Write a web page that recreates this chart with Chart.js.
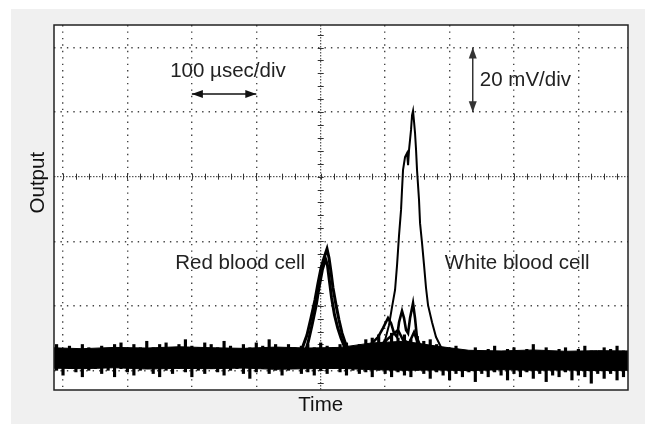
<!DOCTYPE html>
<html lang="en">
<head>
<meta charset="UTF-8">
<title>Red and white blood cell signal</title>
<script src="https://cdn.jsdelivr.net/npm/chart.js"></script>
<style>
  body { margin:0; background:#fff; }
  #panel { position:absolute; left:11px; top:9px; width:634px; height:415px; background:#f0f0f0; }
  #scope { position:absolute; left:0; top:0; }
</style>
</head>
<body>
<div id="panel"></div>
<canvas id="scope" width="645" height="424"></canvas>
<script>
// time in µs (100 µsec/div), output in mV (20 mV/div); screen centre is (0, 0)

// solid core of the baseline noise
const coreTime   = [-420, -370, -320, -270, -220, -170, -120, -70, -20, 30, 80, 130, 180, 230, 280, 330, 380, 430, 480];
const coreTop    = [-53, -53.3, -52.9, -53.1, -52.7, -53, -53.2, -52.8, -53.1, -52.9, -51.5, -51, -52.5, -53.8, -54, -53.7, -54.1, -53.9, -54];
const coreBottom = [-59.3, -59.5, -59.2, -59.6, -59.4, -59.5, -59.3, -59.7, -59.5, -59.4, -59.8, -60, -59.9, -60.1, -59.8, -60, -59.9, -60.1, -60];

// noise spikes: tip above and tip below at each sample
const baseTime = [
  -420, -410, -400, -390, -380, -370, -360, -350, -340, -330,
  -320, -310, -300, -290, -280, -270, -260, -250, -240, -230,
  -220, -210, -200, -190, -180, -170, -160, -150, -140, -130,
  -120, -110, -100, -90, -80, -70, -60, -50, -40, -30,
  -20, -10, 0, 10, 20, 30, 40, 50, 60, 70,
  80, 90, 100, 110, 120, 130, 140, 150, 160, 170,
  180, 190, 200, 210, 220, 230, 240, 250, 260, 270,
  280, 290, 300, 310, 320, 330, 340, 350, 360, 370,
  380, 390, 400, 410, 420, 430, 440, 450, 460, 470, 480
];
const baseUpper = [
  -52.5, -52, -53.5, -52.5, -54, -52, -53, -54, -52.5, -53.5,
  -52, -51.5, -53.5, -52, -53, -51, -53, -52, -51.5, -53,
  -52, -50.5, -52.5, -53, -51.5, -52, -53, -51, -52.5, -53.5,
  -52, -53, -51.5, -52.5, -50.5, -52, -53.5, -52, -53, -52.5,
  -52, -53, -51.5, -52.5, -53, -52, -51.5, -53, -52, -50.5,
  -50, -49, -50.5, -48.5, -50, -49, -50.5, -49.5, -51, -50.5,
  -52, -53, -54, -52.5, -54, -54.5, -53, -54.5, -53.5, -52.5,
  -54.5, -53.5, -53, -54.5, -53.5, -52, -54, -53, -54.5, -53.5,
  -53, -54.5, -53.5, -52.5, -54, -54.5, -53, -53.5, -52.5, -54, -53.5
];
const baseLower = [
  -60.5, -60, -61.5, -59.5, -60.5, -62, -60, -59.5, -61, -60,
  -62, -59.5, -60.5, -61.5, -60, -59.5, -61, -62, -60, -61,
  -59.5, -60.5, -62, -60, -61, -59.5, -60.5, -61.5, -60, -59.5,
  -61, -62.5, -60.5, -59.5, -61, -60, -61.5, -60, -59.5, -61,
  -60.5, -61.5, -60, -61, -59.5, -60.5, -61.5, -60, -61, -60.5,
  -62, -60, -61, -62, -60.5, -61.5, -62, -60, -61, -62.5,
  -60.5, -61.5, -63, -61, -62, -60.5, -63.5, -61, -62, -60.5,
  -61.5, -63, -61, -62, -60.5, -62.5, -61, -63.5, -61.5, -62,
  -60.5, -63, -61.5, -62, -64, -61, -62.5, -61, -63, -62, -61.5
];

// red blood cell pulse, two overlapping sweeps
const rbcTimeA = [-32, -27.5, -21.3, -15.1, -8.9, -4.2, 0.5, 5.1, 9.8, 12.9, 16, 19.1, 23.8, 28.4, 33.1, 39.3, 45.5];
const rbcOutA  = [-54.4, -52.5, -49.1, -43.8, -38.2, -33, -28.3, -25.2, -22.4, -25.2, -29.6, -34.5, -39.8, -44.4, -48.5, -52.2, -54];
const rbcTimeB = [-24, -19.5, -13.5, -7, -2.5, 2.5, 7.5, 10.5, 13.5, 16.8, 21.5, 26.5, 31.5, 37.7];
const rbcOutB  = [-54.4, -51.3, -46, -39.8, -34.2, -28.9, -25.5, -27.5, -32.2, -37.4, -42.9, -46.9, -50, -53.1];

// white blood cell pulse
const wbcTime = [92, 100, 106, 110.7, 115.4, 118.5, 121.6, 124.7, 126.2, 127.8, 130.9, 134, 135.6, 137.1, 140.2,
  141.8, 143.3, 144.9, 146.4, 148, 149.5, 152.6, 154.2, 157.3, 160.4, 163.5, 166.6, 172.8, 179, 186.8, 194.6];
const wbcOut = [-53.7, -50.6, -46, -40.4, -35.1, -27.4, -18.1, -10.3, -4.1, 2.1, 6.1, 7.3, 3.6, 8.3, 14.5,
  19.1, 20.4, 17, 13.6, 8.3, 2.1, -7.2, -14.4, -20.6, -27.4, -34.5, -39.8, -45.1, -49.7, -52.8, -54.4];

// smaller sweeps under the white cell pulse
const bumpTimeA = [68.8, 79.7, 89, 96.7, 104.5, 109.2, 113.8, 118.5, 121.6, 126.2, 129.3, 132.5, 135.6, 138.7, 143.3, 146.4, 149.5, 154.2, 162];
const bumpOutA  = [-53.7, -51.6, -49.7, -46.9, -43.8, -45.4, -48.5, -49.7, -45.1, -41.6, -43.8, -47.5, -48.5, -43.8, -39.2, -43.8, -50, -52.2, -53.7];
const bumpTimeB = [84.3, 100, 110.7, 120, 127.8, 137.1, 144.9, 152.6, 166.6];
const bumpOutB  = [-53.7, -51, -49.1, -47.5, -50.6, -51.6, -48.2, -52.5, -54.4];

// graticule
const xGrid = [-400, -300, -200, -100, 0, 100, 200, 300, 400];
const yGrid = [-60, -40, -20, 0, 20, 40];

// labels inside the screen
const notes = [
  { text: '100 µsec/div', x: -144, y: 32.5 },
  { text: '20 mV/div', x: 247, y: 30, align: 'left' },
  { text: 'Red blood cell', x: -125, y: -27 },
  { text: 'White blood cell', x: 305, y: -27 }
];
const timeArrow = [-200, -100, 25.6];   // from, to, level
const outArrow = [236, 40, 20];         // time, from, to

const pts = (xs, ys) => xs.map((x, i) => ({ x, y: ys[i] }));
const FONT = '20.5px "Liberation Sans", Arial, sans-serif';

function arrow(ctx, x1, y1, x2, y2, color) {
  const a = Math.atan2(y2 - y1, x2 - x1), L = 11, W = 4;
  ctx.strokeStyle = color; ctx.fillStyle = color; ctx.lineWidth = 1.5;
  ctx.beginPath(); ctx.moveTo(x1, y1); ctx.lineTo(x2, y2); ctx.stroke();
  [[x2, y2, a], [x1, y1, a + Math.PI]].forEach(([x, y, t]) => {
    ctx.beginPath();
    ctx.moveTo(x, y);
    ctx.lineTo(x - L * Math.cos(t) + W * Math.sin(t), y - L * Math.sin(t) - W * Math.cos(t));
    ctx.lineTo(x - L * Math.cos(t) - W * Math.sin(t), y - L * Math.sin(t) + W * Math.cos(t));
    ctx.closePath(); ctx.fill();
  });
}

const scopeDecor = {
  id: 'scopeDecor',
  beforeDraw(chart) {
    const { ctx, chartArea: a } = chart;
    ctx.save();
    ctx.fillStyle = '#fff';
    ctx.fillRect(a.left, a.top, a.right - a.left, a.bottom - a.top);
    ctx.restore();
  },
  beforeDatasetsDraw(chart) {
    const { ctx, chartArea: a, scales: { x, y } } = chart;
    const x0 = x.getPixelForValue(0), y0 = y.getPixelForValue(0);
    ctx.save();
    ctx.strokeStyle = '#333';
    ctx.lineWidth = 1;
    ctx.setLineDash([1.5, 1.5]);
    ctx.beginPath();
    ctx.moveTo(a.left, y0); ctx.lineTo(a.right, y0);
    ctx.moveTo(x0, a.top); ctx.lineTo(x0, a.bottom);
    ctx.stroke();
    ctx.setLineDash([]);
    ctx.beginPath();
    for (let t = Math.ceil(x.min / 20) * 20; t <= x.max; t += 20) {
      const px = Math.round(x.getPixelForValue(t)) + 0.5;
      ctx.moveTo(px, y0 - 3); ctx.lineTo(px, y0 + 3);
    }
    for (let v = Math.ceil(y.min / 4) * 4; v <= y.max; v += 4) {
      const py = Math.round(y.getPixelForValue(v)) + 0.5;
      ctx.moveTo(x0 - 3, py); ctx.lineTo(x0 + 3, py);
    }
    ctx.stroke();
    ctx.restore();
  },
  afterDatasetsDraw(chart) {
    const { ctx, chartArea: a, scales: { x, y } } = chart;
    ctx.save();
    ctx.font = FONT;
    ctx.fillStyle = '#222';
    ctx.textBaseline = 'middle';
    notes.forEach(n => {
      ctx.textAlign = n.align || 'center';
      ctx.fillText(n.text, x.getPixelForValue(n.x), y.getPixelForValue(n.y));
    });
    arrow(ctx, x.getPixelForValue(timeArrow[0]), y.getPixelForValue(timeArrow[2]),
      x.getPixelForValue(timeArrow[1]), y.getPixelForValue(timeArrow[2]), '#111');
    arrow(ctx, x.getPixelForValue(outArrow[0]), y.getPixelForValue(outArrow[1]),
      x.getPixelForValue(outArrow[0]), y.getPixelForValue(outArrow[2]), '#333');

    // frame
    ctx.strokeStyle = '#222';
    ctx.lineWidth = 1.5;
    ctx.strokeRect(a.left, a.top, a.right - a.left, a.bottom - a.top);

    // axis titles, centred on the screen centre
    ctx.fillStyle = '#111';
    ctx.textAlign = 'center';
    ctx.fillText('Time', x.getPixelForValue(0), a.bottom + 15);
    ctx.translate(a.left - 16, y.getPixelForValue(0) + 6);
    ctx.rotate(-Math.PI / 2);
    ctx.fillText('Output', 0, 0);
    ctx.restore();
  }
};

const trace = (data, width) => ({
  data, borderColor: '#000', borderWidth: width, pointRadius: 0, fill: false, tension: 0
});

new Chart(document.getElementById('scope'), {
  type: 'line',
  data: {
    datasets: [
      { ...trace(pts(coreTime, coreTop), 1), fill: '+1', backgroundColor: '#000' },
      trace(pts(coreTime, coreBottom), 1),
      {
        type: 'bar',
        data: baseTime.map((t, i) => ({ x: t, y: [baseLower[i], baseUpper[i]] })),
        backgroundColor: '#000', barThickness: 2.5, borderWidth: 0
      },
      trace(pts(rbcTimeA, rbcOutA), 3),
      trace(pts(rbcTimeB, rbcOutB), 3),
      trace(pts(bumpTimeA, bumpOutA), 2.6),
      trace(pts(bumpTimeB, bumpOutB), 2.6),
      trace(pts(wbcTime, wbcOut), 2)
    ]
  },
  options: {
    responsive: false,
    animation: false,
    layout: { padding: { left: 54, top: 25, right: 17, bottom: 34 } },
    plugins: { legend: { display: false }, tooltip: { enabled: false } },
    scales: {
      x: {
        type: 'linear', min: -414, max: 477, offset: false,
        afterBuildTicks: s => { s.ticks = xGrid.map(v => ({ value: v })); },
        ticks: { display: false },
        border: { display: false, dash: [1.4, 5.04] },
        grid: { offset: false, drawTicks: false, lineWidth: 1.4, color: c => c.tick && c.tick.value === 0 ? 'rgba(0,0,0,0)' : '#444' }
      },
      y: {
        type: 'linear', min: -66.1, max: 47,
        afterBuildTicks: s => { s.ticks = yGrid.map(v => ({ value: v })); },
        ticks: { display: false },
        border: { display: false, dash: [1.4, 5.04] },
        grid: { drawTicks: false, lineWidth: 1.4, color: c => c.tick && c.tick.value === 0 ? 'rgba(0,0,0,0)' : '#444' }
      }
    }
  },
  plugins: [scopeDecor]
});
</script>
</body>
</html>
